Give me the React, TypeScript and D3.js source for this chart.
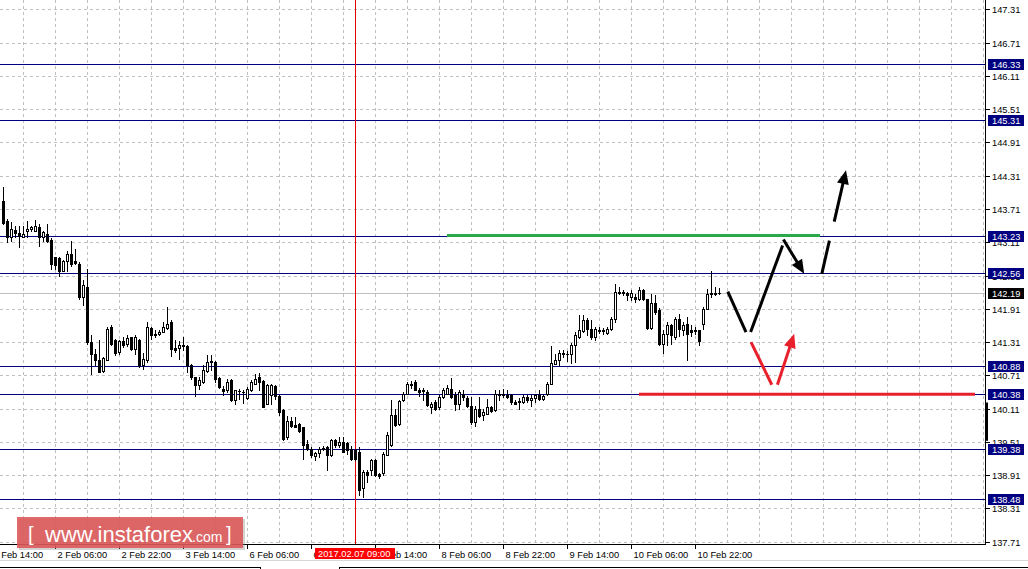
import * as d3 from 'd3';

// H1 bars, oldest first (1 Feb 17:00 ... 11 Feb)
const open = [
  143.86, 143.49, 143.2, 143.33, 143.27, 143.21, 143.31, 143.35, 143.32, 143.39,
  143.2, 143.26, 143.15, 142.84, 142.83, 142.6, 142.78, 142.89, 142.77, 142.72,
  142.12, 142.31, 141.31, 141.09, 140.99, 140.78, 140.99, 141.58, 141.35, 141.13,
  141.33, 141.27, 141.4, 141.19, 141.35, 140.89, 140.98, 141.57, 141.46, 141.46,
  141.5, 141.56, 141.67, 141.21, 141.2, 141.25, 141.23, 140.89, 140.68, 140.53,
  140.59, 140.79, 140.95, 140.95, 140.67, 140.46, 140.44, 140.62, 140.27, 140.43,
  140.41, 140.31, 140.44, 140.56, 140.68, 140.6, 140.2, 140.35, 140.51, 140.33,
  140.09, 139.59, 139.89, 139.81, 139.83, 139.77, 139.47, 139.39, 139.25, 139.31,
  139.4, 139.42, 139.27, 139.55, 139.45, 139.51, 139.49, 139.39, 139.36, 139.33,
  138.67, 138.97, 139.0, 139.18, 138.93, 138.94, 139.28, 139.45, 139.99, 139.84,
  140.26, 140.38, 140.55, 140.59, 140.45, 140.44, 140.41, 140.13, 140.23, 140.13,
  140.32, 140.38, 140.47, 140.35, 140.2, 140.37, 140.31, 140.15, 139.87, 140.11,
  139.99, 140.02, 140.14, 140.08, 140.37, 140.37, 140.35, 140.35, 140.23, 140.23,
  140.23, 140.32, 140.26, 140.31, 140.35, 140.29, 140.37, 140.55, 140.92, 140.98,
  141.1, 141.1, 141.09, 141.25, 141.41, 141.51, 141.71, 141.55, 141.4, 141.52,
  141.52, 141.47, 141.55, 141.73, 142.21, 142.21, 142.19, 142.13, 142.13, 142.08,
  142.24, 142.08, 141.56, 142.02, 141.88, 141.28, 141.46, 141.61, 141.4, 141.73,
  141.52, 141.64, 141.52, 141.51, 141.52, 141.64, 141.91, 142.17, 142.18, 142.2,
];
const high = [
  144.1, 143.53, 143.47, 143.41, 143.41, 143.41, 143.5, 143.41, 143.51, 143.44,
  143.32, 143.44, 143.19, 142.85, 142.84, 142.79, 142.95, 143.14, 142.99, 142.75,
  142.42, 142.63, 141.43, 141.19, 141.34, 141.04, 141.58, 141.61, 141.37, 141.34,
  141.4, 141.43, 141.41, 141.43, 141.37, 141.11, 141.67, 141.59, 141.52, 141.53,
  141.67, 141.94, 141.71, 141.34, 141.32, 141.4, 141.25, 140.92, 140.68, 140.68,
  140.89, 141.07, 141.07, 140.97, 140.68, 140.51, 140.65, 140.65, 140.45, 140.47,
  140.44, 140.5, 140.62, 140.73, 140.75, 140.62, 140.55, 140.55, 140.53, 140.35,
  140.11, 139.97, 139.96, 139.96, 139.85, 139.78, 139.54, 139.42, 139.33, 139.42,
  139.43, 139.43, 139.57, 139.57, 139.59, 139.6, 139.51, 139.43, 139.38, 139.42,
  139.0, 139.0, 139.2, 139.2, 138.94, 139.33, 139.69, 140.26, 140.11, 140.26,
  140.41, 140.59, 140.61, 140.62, 140.49, 140.49, 140.44, 140.23, 140.26, 140.35,
  140.49, 140.53, 140.67, 140.41, 140.44, 140.44, 140.33, 140.32, 140.15, 140.32,
  140.11, 140.29, 140.15, 140.45, 140.44, 140.47, 140.44, 140.37, 140.26, 140.31,
  140.35, 140.35, 140.35, 140.38, 140.44, 140.38, 140.59, 141.23, 141.1, 141.16,
  141.16, 141.15, 141.29, 141.49, 141.79, 141.79, 141.75, 141.7, 141.58, 141.58,
  141.57, 141.58, 141.76, 142.35, 142.3, 142.25, 142.21, 142.24, 142.18, 142.3,
  142.26, 142.09, 142.18, 142.15, 141.92, 141.52, 141.67, 141.64, 141.76, 141.82,
  141.67, 141.76, 141.61, 141.58, 141.52, 141.94, 142.26, 142.6, 142.3, 142.28,
];
const low = [
  143.44, 143.11, 143.14, 143.2, 143.02, 143.2, 143.2, 143.32, 143.31, 143.05,
  143.14, 143.11, 142.63, 142.63, 142.51, 142.59, 142.6, 142.69, 142.72, 142.09,
  141.97, 141.28, 140.74, 140.89, 140.77, 140.77, 140.98, 141.25, 141.07, 141.1,
  141.22, 141.23, 141.17, 141.1, 140.86, 140.83, 140.95, 141.37, 141.4, 141.44,
  141.49, 141.55, 141.05, 141.13, 141.01, 141.16, 140.77, 140.64, 140.33, 140.47,
  140.57, 140.77, 140.81, 140.59, 140.49, 140.35, 140.41, 140.25, 140.19, 140.29,
  140.21, 140.29, 140.43, 140.55, 140.44, 140.13, 140.19, 140.19, 140.29, 139.99,
  139.55, 139.57, 139.77, 139.77, 139.69, 139.21, 139.37, 139.24, 139.18, 139.24,
  139.37, 139.0, 139.25, 139.41, 139.42, 139.33, 139.3, 139.18, 139.19, 138.55,
  138.52, 138.78, 138.91, 138.9, 138.86, 138.92, 139.27, 139.44, 139.8, 139.82,
  140.25, 140.37, 140.49, 140.44, 140.33, 140.26, 140.15, 140.03, 140.09, 140.11,
  140.31, 140.37, 140.31, 140.08, 140.11, 140.26, 140.14, 139.83, 139.79, 139.96,
  139.9, 140.01, 140.05, 140.07, 140.26, 140.32, 140.31, 140.2, 140.19, 140.11,
  140.21, 140.23, 140.15, 140.23, 140.27, 140.27, 140.35, 140.55, 140.91, 140.89,
  141.04, 140.97, 140.93, 140.95, 141.39, 141.49, 141.43, 141.37, 141.34, 141.47,
  141.46, 141.46, 141.53, 141.67, 142.17, 142.15, 142.06, 142.07, 142.03, 142.06,
  142.06, 141.55, 141.55, 141.82, 141.25, 141.12, 141.25, 141.28, 141.37, 141.42,
  141.43, 140.99, 141.42, 141.46, 141.26, 141.55, 141.9, 142.12, 142.16, 142.17,
];
const close = [
  143.45, 143.2, 143.35, 143.27, 143.23, 143.25, 143.35, 143.38, 143.41, 143.2,
  143.29, 143.14, 142.72, 142.7, 142.59, 142.78, 142.9, 142.72, 142.74, 142.12,
  142.33, 141.31, 141.1, 140.98, 140.77, 141.02, 141.55, 141.28, 141.11, 141.32,
  141.25, 141.39, 141.19, 141.4, 140.89, 141.01, 141.59, 141.43, 141.44, 141.49,
  141.59, 141.64, 141.19, 141.16, 141.25, 141.23, 140.89, 140.68, 140.53, 140.62,
  140.8, 140.95, 140.96, 140.65, 140.5, 140.43, 140.59, 140.26, 140.44, 140.42,
  140.41, 140.47, 140.59, 140.65, 140.59, 140.14, 140.53, 140.53, 140.33, 140.05,
  139.57, 139.89, 139.79, 139.78, 139.71, 139.45, 139.39, 139.27, 139.31, 139.39,
  139.39, 139.27, 139.55, 139.45, 139.51, 139.33, 139.36, 139.21, 139.21, 138.64,
  138.96, 138.91, 139.18, 138.91, 138.9, 139.3, 139.63, 139.99, 139.81, 140.24,
  140.38, 140.56, 140.56, 140.45, 140.41, 140.43, 140.17, 140.2, 140.11, 140.32,
  140.45, 140.49, 140.32, 140.2, 140.41, 140.32, 140.15, 139.87, 140.11, 139.97,
  140.05, 140.13, 140.07, 140.37, 140.38, 140.36, 140.32, 140.23, 140.2, 140.24,
  140.32, 140.26, 140.31, 140.35, 140.29, 140.33, 140.55, 140.93, 140.98, 141.11,
  141.11, 141.09, 141.25, 141.43, 141.52, 141.7, 141.55, 141.41, 141.55, 141.53,
  141.51, 141.55, 141.73, 142.21, 142.22, 142.2, 142.15, 142.19, 142.09, 142.24,
  142.08, 141.56, 142.02, 141.85, 141.28, 141.46, 141.61, 141.43, 141.73, 141.54,
  141.61, 141.46, 141.49, 141.52, 141.32, 141.91, 142.18, 142.19, 142.2, 142.19,
];

const priceTicks = [
  147.31, 146.71, 146.11, 145.51, 144.91, 144.31, 143.71, 143.11, 142.51,
  141.91, 141.31, 140.71, 140.11, 139.51, 138.91, 138.31, 137.71,
];
const levels = [146.33, 145.31, 143.23, 142.56, 140.88, 140.38, 139.38, 138.48];
const lastPrice = 142.19;
const axisMark = [139.53, 140.22];

const timeLabels = [
  '1 Feb 14:00', '2 Feb 06:00', '2 Feb 22:00', '3 Feb 14:00', '6 Feb 06:00', '6 Feb 22:00',
  '7 Feb 14:00', '8 Feb 06:00', '8 Feb 22:00', '9 Feb 14:00', '10 Feb 06:00', '10 Feb 22:00',
];
const timeLabelBars = [-3, 13, 29, 45, 61, 77, 93, 109, 125, 141, 157, 173];
const crossBar = 88;
const crossLabel = '2017.02.07 09:00';

// forecast drawing, as [bar, price] points
const blackSegments = [
  [[181.2, 142.22], [185.75, 141.49]],
  [[186.9, 141.49], [194.9, 143.05]],
  [[204.7, 142.54], [206.6, 143.14]],
];
const blackArrows = [
  [[195.1, 143.16], [200.3, 142.54]],
  [[207.8, 143.48], [210.75, 144.41]],
];
const redSegments = [[[187.0, 141.31], [192.2, 140.54]]];
const redArrows = [[[193.6, 140.54], [197.8, 141.46]]];
const greenLevel = { from: 111, to: 204.25, price: 143.23 };
const redLevel = { from: 159, to: 243, price: 140.37 };

const FONT = '"Liberation Sans", Arial, sans-serif';
const NAVY = '#000080';
const GRID = '#c0c0c0';
const plotRight = 985.5;
const plotBottom = 544.5;

type Pt = number[];

export default function App() {
  const x = d3.scaleLinear([0, 1], [3, 7]);
  const y = d3.scaleLinear([137.71, 147.31], [541.7, 9.3]);
  const py = (p: number) => Math.round(y(p)) + 0.5;

  const gridBars = d3.range(5, 246, 8);

  const arrow = (a: Pt, b: Pt, color: string, key: string) => {
    const x0 = x(a[0]), y0 = y(a[1]), x1 = x(b[0]), y1 = y(b[1]);
    const len = Math.hypot(x1 - x0, y1 - y0);
    const ux = (x1 - x0) / len, uy = (y1 - y0) / len;
    const hl = 14, hw = 6;
    const bx = x1 - ux * hl, by = y1 - uy * hl;
    const head = [
      [x1, y1],
      [bx - uy * hw, by + ux * hw],
      [bx + uy * hw, by - ux * hw],
    ];
    return (
      <g key={key}>
        <line x1={x0} y1={y0} x2={bx + ux * 2} y2={by + uy * 2} stroke={color} strokeWidth={3} />
        <polygon points={head.map((p) => p.join(',')).join(' ')} fill={color} />
      </g>
    );
  };

  return (
    <svg
      width={1028}
      height={569}
      viewBox='0 0 1028 569'
      style={{ position: 'absolute', left: 0, top: 0, background: '#fff' }}
      fontFamily={FONT}
    >
      <rect width={1028} height={569} fill='#fff' />

      {/* grid */}
      <g stroke={GRID} strokeDasharray='3,3' shapeRendering='crispEdges'>
        {priceTicks.map((t) => (
          <line key={'h' + t} x1={0} x2={plotRight} y1={py(t)} y2={py(t)} />
        ))}
        {gridBars.map((b) => (
          <line key={'v' + b} x1={x(b) + 0.5} x2={x(b) + 0.5} y1={0} y2={plotBottom} />
        ))}
      </g>

      {/* price levels */}
      <g shapeRendering='crispEdges'>
        <line x1={0} x2={plotRight} y1={py(lastPrice)} y2={py(lastPrice)} stroke={GRID} />
        {levels.map((l) => (
          <line key={l} x1={0} x2={plotRight} y1={py(l)} y2={py(l)} stroke={NAVY} />
        ))}
      </g>

      {/* crosshair */}
      <line
        x1={x(crossBar) + 0.5}
        x2={x(crossBar) + 0.5}
        y1={0}
        y2={plotBottom}
        stroke='#e00000'
        shapeRendering='crispEdges'
      />

      {/* candles */}
      <g shapeRendering='crispEdges'>
        {open.map((o, i) => {
          const c = close[i];
          const cx = Math.round(x(i));
          const top = Math.round(y(Math.max(o, c)));
          const bot = Math.round(y(Math.min(o, c)));
          const bull = c > o;
          return (
            <g key={i}>
              <line x1={cx + 0.5} x2={cx + 0.5} y1={Math.round(y(high[i]))} y2={Math.round(y(low[i])) + 1} stroke='#000' />
              {bull ? (
                <rect x={cx - 0.5} y={top + 0.5} width={2} height={Math.max(1, bot - top)} fill='#fff' stroke='#000' />
              ) : (
                <rect x={cx - 1} y={top} width={3} height={Math.max(1, bot - top + 1)} fill='#000' />
              )}
            </g>
          );
        })}
      </g>

      {/* forecast drawing */}
      <line
        x1={x(greenLevel.from)}
        x2={x(greenLevel.to)}
        y1={y(greenLevel.price)}
        y2={y(greenLevel.price)}
        stroke='#2aa84a'
        strokeWidth={3}
      />
      <line
        x1={x(redLevel.from)}
        x2={x(redLevel.to)}
        y1={y(redLevel.price)}
        y2={y(redLevel.price)}
        stroke='#e8202c'
        strokeWidth={3}
      />
      {blackSegments.map((s, i) => (
        <line key={'bs' + i} x1={x(s[0][0])} y1={y(s[0][1])} x2={x(s[1][0])} y2={y(s[1][1])} stroke='#000' strokeWidth={3} />
      ))}
      {redSegments.map((s, i) => (
        <line key={'rs' + i} x1={x(s[0][0])} y1={y(s[0][1])} x2={x(s[1][0])} y2={y(s[1][1])} stroke='#e8202c' strokeWidth={3} />
      ))}
      {blackArrows.map((a, i) => arrow(a[0], a[1], '#000', 'ba' + i))}
      {redArrows.map((a, i) => arrow(a[0], a[1], '#e8202c', 'ra' + i))}

      {/* axes */}
      <g stroke='#000' shapeRendering='crispEdges'>
        <line x1={plotRight} x2={plotRight} y1={0} y2={plotBottom} />
        <line x1={0} x2={plotRight} y1={plotBottom} y2={plotBottom} />
        {priceTicks.map((t) => (
          <line key={t} x1={plotRight} x2={plotRight + 4} y1={py(t)} y2={py(t)} />
        ))}
        {timeLabelBars.map((b) => (
          <line key={b} x1={x(b) + 0.5} x2={x(b) + 0.5} y1={plotBottom} y2={plotBottom + 4} />
        ))}
      </g>
      <rect
        x={985}
        y={y(axisMark[1])}
        width={3}
        height={y(axisMark[0]) - y(axisMark[1])}
        fill='#000'
      />
      <g fontSize={9.3} fill='#000'>
        {priceTicks.map((t) => (
          <text key={t} x={992} y={Math.round(y(t)) + 3.5}>
            {t.toFixed(2)}
          </text>
        ))}
        {timeLabels.map((lab, i) => (
          <text key={lab} x={x(timeLabelBars[i]) + 2.5} y={557.5}>
            {lab}
          </text>
        ))}
      </g>

      {/* price labels */}
      {levels.map((l) => (
        <g key={'lab' + l}>
          <rect x={988} y={Math.round(y(l)) - 5} width={36} height={11} fill={NAVY} />
          <text x={992} y={Math.round(y(l)) + 3.5} fontSize={9.3} fill='#fff'>
            {l.toFixed(2)}
          </text>
        </g>
      ))}
      <rect x={988} y={Math.round(y(lastPrice)) - 5} width={36} height={11} fill='#000' />
      <text x={992} y={Math.round(y(lastPrice)) + 3.5} fontSize={9.3} fill='#fff'>
        {lastPrice.toFixed(2)}
      </text>

      {/* time label of crosshair */}
      <rect x={x(crossBar) - 40} y={548} width={80} height={11} fill='#ff0000' />
      <text x={x(crossBar) - 37} y={557.3} fontSize={9.3} fill='#fff'>
        {crossLabel}
      </text>

      {/* window bottom */}
      <g shapeRendering='crispEdges'>
        <line x1={0} x2={1028} y1={560.5} y2={560.5} stroke='#d8d8d8' />
        <path d='M0,567.5H260.5V569M339.5,569V567.5H1028' fill='none' stroke='#000' />
      </g>

      {/* logo */}
      <g>
        <rect x={19} y={519} width={226} height={31} fill='#808080' opacity={0.35} />
        <rect x={17} y={517} width={226} height={31} fill='#dd5555' opacity={0.88} />
        <text x={28} y={541} fontSize={20} fill='#fff'>[</text>
        <text x={45} y={542} fontSize={22} fill='#fff'>
          www.instaforex
        </text>
        <text x={192} y={542} fontSize={14} fill='#fff'>.com</text>
        <text x={226} y={541} fontSize={20} fill='#fff'>]</text>
      </g>
    </svg>
  );
}
